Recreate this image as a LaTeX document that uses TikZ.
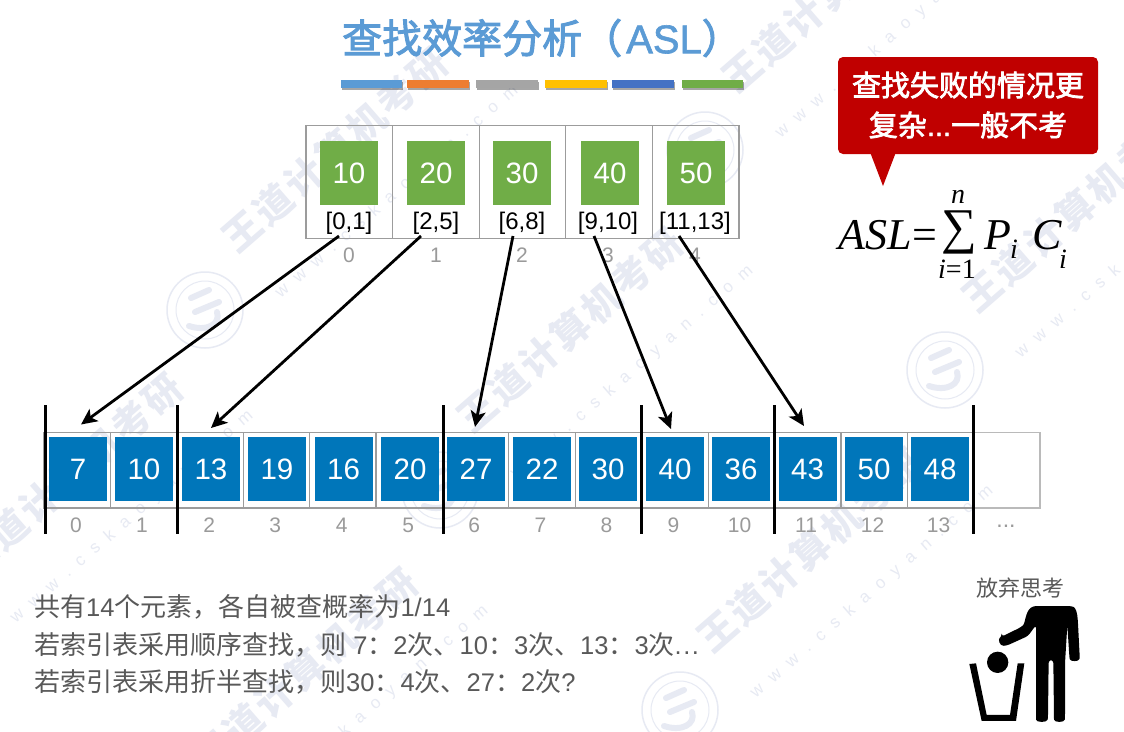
\documentclass[tikz,border=0pt]{standalone}
\usepackage{fontspec}
\setmainfont{Liberation Sans}
\newfontfamily\cjk{Noto Sans CJK SC}
\newfontfamily\cjkmed[FakeBold=2.5]{Noto Sans CJK SC}
\newfontfamily\latmed[FakeBold=1.5]{Liberation Sans}
\newfontfamily\tms{Liberation Serif}
\usetikzlibrary{arrows.meta,shadows,calc}
\newcommand{\pxs}[1]{\fontsize{#1}{#1}\selectfont}
\newcommand{\CJ}[1]{{\cjk\fontsize{26}{26}\selectfont #1}}
\newcommand{\CT}[1]{{\cjkmed #1}}
\definecolor{wmc}{HTML}{E7EAF3}
\definecolor{titleb}{HTML}{5B9BD5}
\definecolor{txtg}{HTML}{595959}
\definecolor{idxg}{HTML}{9A9A9A}
\definecolor{gridg}{HTML}{9C9C9C}
\definecolor{cellb}{HTML}{0076BA}
\definecolor{cellg}{HTML}{70AD47}
\definecolor{callr}{HTML}{C00000}
\tikzset{
  wmtext/.style={text=wmc,font=\cjk\bfseries\pxs{38},rotate=41,inner sep=0pt},
  wmurl/.style={text=wmc,font=\pxs{17},rotate=41,inner sep=0pt},
  bluesq/.style={fill=cellb,text=white,minimum width=58pt,minimum height=64pt,inner sep=0pt,font=\pxs{29.5}},
  greensq/.style={fill=cellg,text=white,minimum width=58pt,minimum height=64pt,inner sep=0pt,font=\pxs{29.5}},
  rangelab/.style={text=black,inner sep=0pt,font=\pxs{24}},
  idxlab/.style={text=idxg,inner sep=0pt,font=\pxs{21}},
  sepbar/.style={line width=3pt,black},
  ptr/.style={line width=2.8pt,black,-{Stealth[length=16pt,width=15pt,inset=4pt]}},
  colorbar/.style={drop shadow={shadow xshift=1pt,shadow yshift=-1.5pt,opacity=.35,fill=black}},
  bodytext/.style={text=txtg,anchor=west,inner sep=0pt,font=\pxs{25.5}},
  formula/.style={inner sep=0pt,anchor=base west,text=black},
}
\begin{document}
\begin{tikzpicture}[x=1pt,y=-1pt]
\useasboundingbox (0,0) rectangle (1124,731);
\fill[white] (0,0) rectangle (1124,731);
% watermark
\begin{scope}
\clip (0,0) rectangle (1124,731);
\foreach \wx/\wy [count=\wi] in {335/150,570/330,810/550,1075/210,835/-10,70/475,305/670}{
  \node[wmtext] (wm\wi) at (\wx,\wy) {王\hspace{3pt}道\hspace{3pt}计\hspace{3pt}算\hspace{3pt}机\hspace{3pt}考\hspace{3pt}研};
  \node[wmurl] (wu\wi) at ($(\wx,\wy)+(62,42)$) {w\hspace{11pt}w\hspace{11pt}w\hspace{11pt}.\hspace{11pt}c\hspace{11pt}s\hspace{11pt}k\hspace{11pt}a\hspace{11pt}o\hspace{11pt}y\hspace{11pt}a\hspace{11pt}n\hspace{11pt}.\hspace{11pt}c\hspace{11pt}o\hspace{11pt}m};
  \begin{scope}[shift={(\wx-130,\wy+160)}]
    \draw[wmc,line width=1.5pt] (0,0) circle[radius=38];
    \draw[wmc,line width=1pt] (0,0) circle[radius=29];
    \draw[wmc,line width=6pt,line cap=round] (-14,-12) -- (4,-20) (-10,2) -- (14,-8) (-16,16) .. controls (2,22) and (16,14) .. (12,2);
  \end{scope}
}
\end{scope}
% title
\node[inner sep=0pt,text=titleb,anchor=west] (title) at (342,38) {\pxs{40}\CT{查找效率分析（}\hspace{4pt}{\latmed ASL}\CT{）}};
% colour bars
\foreach \xa/\xb/\cc [count=\ci] in {341/402/5B9BD5,407/469/ED7D31,476/538/A5A5A5,545/607/FFC000,612/674/4472C4,682/743/70AD47}{
  \definecolor{barc}{HTML}{\cc}
  \fill[barc,colorbar] (\xa,80) rectangle (\xb,88);
}
% top table
\foreach \xa/\xb/\sx/\val/\rng/\lx/\idx [count=\ti from 0] in {
  306/392.7/349/10/{[0,1]}/349/0,
  392.7/479.3/436/20/{[2,5]}/436/1,
  479.3/565.7/522/30/{[6,8]}/522/2,
  565.7/652.3/610/40/{[9,10]}/608/3,
  652.3/739/696/50/{[11,13]}/695/4}{
  \draw[gridg,line width=1.2pt] (\xa,125.7) rectangle (\xb,238.3);
  \node[greensq] (top\ti) at (\sx,173) {\val};
  \node[rangelab] (rng\ti) at (\lx,223) {\rng};
  \node[idxlab] (tidx\ti) at (\lx,255) {\idx};
}
% bottom row
\foreach \xa/\xb/\sx/\val/\idx [count=\bi from 0] in {
  44/110.3/78/7/0,
  110.3/177/144/10/1,
  177/243.3/211/13/2,
  243.3/309.7/277/19/3,
  309.7/376/343.5/16/4,
  376/442.7/410/20/5,
  442.7/508.7/476/27/6,
  508.7/575.3/542/22/7,
  575.3/641.7/608/30/8,
  641.7/708.3/675/40/9,
  708.3/774.3/741/36/10,
  774.3/841/807.5/43/11,
  841/907.7/874/50/12,
  907.7/973.3/940/48/13}{
  \draw[gridg,line width=1.2pt] (\xa,432.3) rectangle (\xb,508);
  \node[bluesq] (cell\bi) at (\sx,469) {\raisebox{-1.5pt}{\val}};
  \node[idxlab] (idx\bi) at (\sx-2+\bi*0.05,525.5) {\idx};
}
\draw[gridg!70,line width=1.2pt] (973.3,432.3) rectangle (1040,508);
\node[idxlab,font=\pxs{23}] (idxmore) at (1006,526) {...};
% separators
\foreach \sx [count=\si] in {45,177,443,641.5,774,973}{
  \coordinate (st\si) at (\sx,405);
  \coordinate (sb\si) at (\sx,533.5);
  \draw[sepbar] (st\si) -- (sb\si);
}
% pointers
\coordinate (p0) at (339,236); \coordinate (q0) at (81,424.5);
\coordinate (p1) at (421,236); \coordinate (q1) at (211,428);
\coordinate (p2) at (513,236); \coordinate (q2) at (475,427);
\coordinate (p3) at (594,236); \coordinate (q3) at (671,429);
\coordinate (p4) at (679,236); \coordinate (q4) at (804,426);
\foreach \i in {0,...,4}{ \draw[ptr] (p\i) -- (q\i); }
% callout
\fill[callr,rounded corners=5pt] (838,57) rectangle (1098,154);
\fill[callr] (870,152) -- (896,152) -- (883,186) -- cycle;
\node[text=white,inner sep=0pt] (call1) at (968,85) {\cjkmed\pxs{29}查找失败的情况更};
\node[text=white,inner sep=0pt] (call2) at (968,125) {\pxs{29}\CT{复杂}{\latmed ...}\CT{一般不考}};
% formula
\node[formula] (fasl) at (838,249) {\tms\itshape\pxs{44}ASL};
\node[formula] (feq) at (912,249) {\tms\pxs{44}=};
\node[formula] (fsum) at (941,243) {\tms\pxs{50}∑};
\node[formula] (fn) at (951,203) {\tms\itshape\pxs{28}n};
\node[formula] (fi) at (938,278) {\tms\pxs{28}{\itshape i}=1};
\node[formula] (fp) at (984,249) {\tms\itshape\pxs{44}P};
\node[formula] (fpi) at (1010,258) {\tms\itshape\pxs{28}i};
\node[formula] (fc) at (1032,249) {\tms\itshape\pxs{44}C};
\node[formula] (fci) at (1059,268) {\tms\itshape\pxs{28}i};
% bottom text
\node[bodytext] (t1) at (34,607) {\CJ{共有}14\CJ{个元素，各自被查概率为}1/14};
\node[bodytext] (t2) at (34,645) {\CJ{若索引表采用顺序查找，则} 7\CJ{：}2\CJ{次、}10\CJ{：}3\CJ{次、}13\CJ{：}3\CJ{次}.\hspace{1.5pt}.\hspace{1.5pt}.};
\node[bodytext] (t3) at (34,682) {\CJ{若索引表采用折半查找，则}30\CJ{：}4\CJ{次、}27\CJ{：}2\CJ{次}?};
% icon
\fill[white] (965,570) rectangle (1090,731);
\node[text=txtg,inner sep=0pt] (giveup) at (1020,588) {\cjk\pxs{22}放弃思考};
\begin{scope}[shift={(950,570)},x=0.3333pt,y=-0.3333pt]
  \fill[black,rounded corners=3pt] (155,200) -- (212,172) .. controls (226,160) and (226,125) .. (250,108) -- (360,108) .. controls (378,112) and (382,130) .. (384,160) -- (389,258) .. controls (388,275) and (360,276) .. (358,258) -- (352,165) -- (345,280) -- (345,440) .. controls (344,458) and (312,458) .. (312,440) -- (310,270) -- (296,270) -- (294,440) .. controls (292,458) and (258,458) .. (258,440) -- (258,165) -- (234,198) -- (170,227) .. controls (148,228) and (145,208) .. (155,200) -- cycle;
  \fill[black] (143,277) circle[radius=32];
  \fill[black] (58,282) -- (78,280) -- (110,435) -- (180,435) -- (203,280) -- (223,280) -- (198,453) -- (95,453) -- cycle;
\end{scope}
\end{tikzpicture}
\end{document}
